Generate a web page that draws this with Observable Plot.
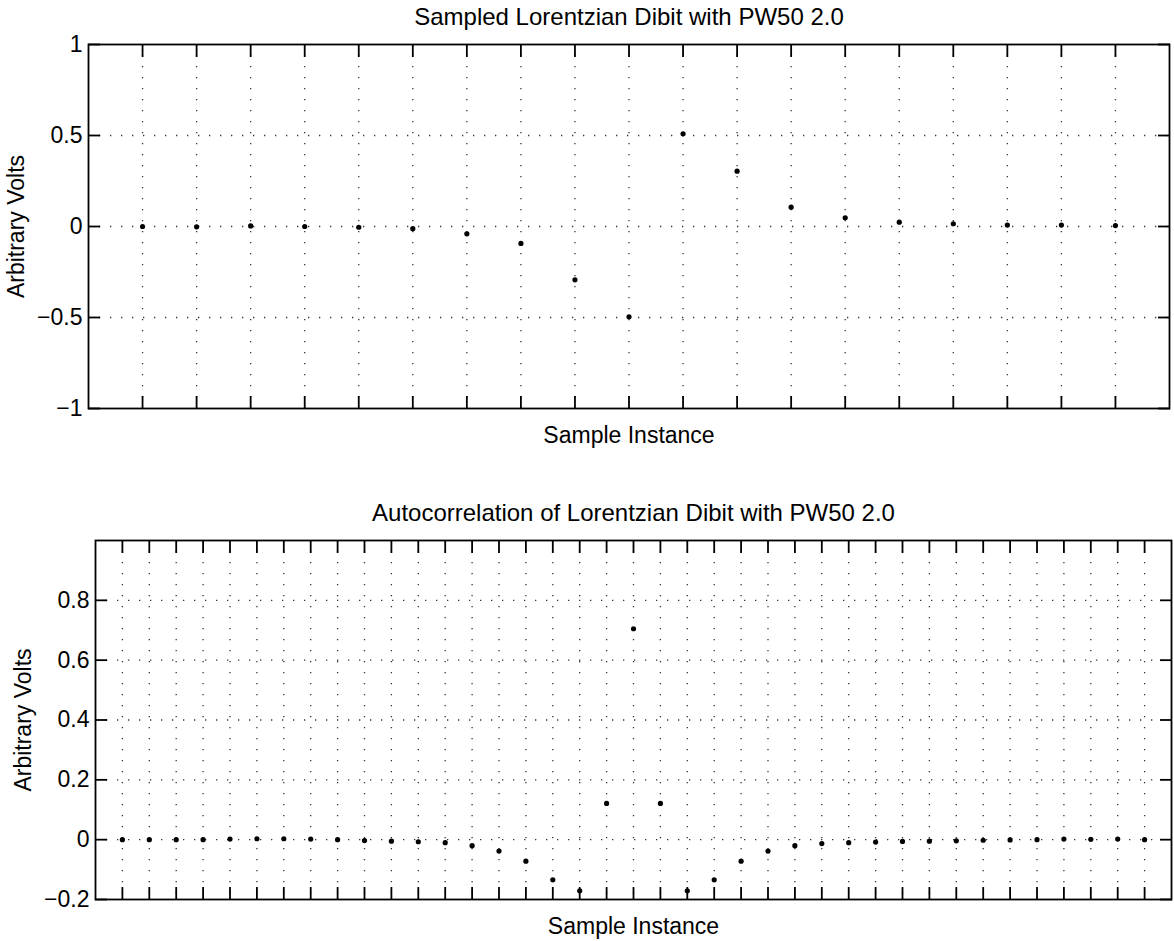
<!DOCTYPE html>
<html><head><meta charset="utf-8">
<script src="https://cdn.jsdelivr.net/npm/d3@7"></script>
<script src="https://cdn.jsdelivr.net/npm/@observablehq/plot@0.6"></script>
<style>
body{margin:0;background:#fff;}
#chart{position:relative;width:1174px;height:941px;font-family:"Liberation Sans",Arial,Helvetica,sans-serif;}
#chart svg{display:block;}
</style></head><body><div id="chart"></div>
<script>
// ---- text ----
const topTitle = "Sampled Lorentzian Dibit with PW50 2.0";
const bottomTitle = "Autocorrelation of Lorentzian Dibit with PW50 2.0";
const xLabel = "Sample Instance";
const yLabel = "Arbitrary Volts";

// ---- top panel data: sampled dibit ----
const dibitIndex  = [1, 2, 3, 4, 5, 6, 7, 8, 9, 10, 11, 12, 13, 14, 15, 16, 17, 18, 19];
const dibitValues = [0, -0.002, 0.003, 0, -0.004, -0.012, -0.04, -0.093, -0.293, -0.496,
                     0.509, 0.304, 0.106, 0.048, 0.024, 0.015, 0.008, 0.008, 0.005];

// ---- bottom panel data: autocorrelation ----
const acIndex  = [1, 2, 3, 4, 5, 6, 7, 8, 9, 10, 11, 12, 13, 14, 15, 16, 17, 18, 19, 20,
                  21, 22, 23, 24, 25, 26, 27, 28, 29, 30, 31, 32, 33, 34, 35, 36, 37, 38, 39];
const acValues = [0, 0, 0, 0, 0.002, 0.003, 0.003, 0.002, 0, -0.003, -0.005, -0.007, -0.01,
                  -0.02, -0.038, -0.072, -0.134, -0.171, 0.121, 0.705, 0.121, -0.171, -0.134,
                  -0.072, -0.038, -0.02, -0.013, -0.01, -0.008, -0.006, -0.005, -0.004, -0.002,
                  -0.001, 0, 0.002, 0.001, 0.002, 0];

// ---- ticks ----
const topXTicks = [1, 2, 3, 4, 5, 6, 7, 8, 9, 10, 11, 12, 13, 14, 15, 16, 17, 18, 19];
const topXDomain = [0, 20];
const topYTicks = [-1, -0.5, 0, 0.5, 1];
const topYTickLabels = ["\u22121", "\u22120.5", "0", "0.5", "1"];
const topYDomain = [-1, 1];

const botXTicks = [1, 2, 3, 4, 5, 6, 7, 8, 9, 10, 11, 12, 13, 14, 15, 16, 17, 18, 19, 20,
                   21, 22, 23, 24, 25, 26, 27, 28, 29, 30, 31, 32, 33, 34, 35, 36, 37, 38, 39];
const botXDomain = [0, 40];
const botYTicks = [-0.2, 0, 0.2, 0.4, 0.6, 0.8];
const botYTickLabels = ["\u22120.2", "0", "0.2", "0.4", "0.6", "0.8"];
const botYDomain = [-0.2, 1];

const FONT = '"Liberation Sans", Arial, Helvetica, sans-serif';

function panel({index, values, title, xTicks, xDomain, yTicks, yTickLabels, yDomain,
                height, marginTop, marginBottom, marginLeft, marginRight}) {
  const rows = index.map((x, i) => ({x, v: values[i]}));
  const fmt = d => yTickLabels[yTicks.indexOf(d)];
  const inner = yTicks.filter(t => t > yDomain[0] && t < yDomain[1]);
  const dotted = {stroke: "#111", strokeOpacity: 0.85, strokeWidth: 1.3, strokeDasharray: "1.3,9.7"};
  const tickStyle = {tickSize: -12, stroke: "black", strokeWidth: 1.8};
  return Plot.plot({
    width: 1174, height, marginTop, marginBottom, marginLeft, marginRight,
    style: {fontFamily: FONT, fontSize: "23px", background: "white", color: "black", overflow: "visible"},
    x: {domain: xDomain, label: null},
    y: {domain: yDomain, label: null},
    marks: [
      Plot.gridX(xTicks, dotted),
      Plot.gridY(inner, dotted),
      Plot.axisY({anchor: "left", ticks: yTicks, tickFormat: fmt, ...tickStyle, tickPadding: 18, fontSize: 23, label: null}),
      Plot.axisY({anchor: "right", ticks: yTicks, ...tickStyle, fill: "none", label: null}),
      Plot.axisX({anchor: "bottom", ticks: xTicks, ...tickStyle, fill: "none", label: null}),
      Plot.axisX({anchor: "top", ticks: xTicks, ...tickStyle, fill: "none", label: null}),
      Plot.frame({stroke: "black", strokeWidth: 1.8}),
      Plot.dot(rows, {x: "x", y: "v", r: 2.6, fill: "black", stroke: "none"}),
      Plot.text([title], {frameAnchor: "top", text: d => d, dy: -27, lineAnchor: "middle", fontSize: 24, fill: "black"}),
      Plot.text([xLabel], {frameAnchor: "bottom", text: d => d, dy: 27, lineAnchor: "middle", fontSize: 23, fill: "black"}),
      Plot.text([yLabel], {frameAnchor: "left", text: d => d, dx: -72, rotate: -90, lineAnchor: "middle", textAnchor: "middle", fontSize: 23, fill: "black"})
    ]
  });
}

const host = document.getElementById("chart");
host.append(panel({
  index: dibitIndex, values: dibitValues, title: topTitle,
  xTicks: topXTicks, xDomain: topXDomain, yTicks: topYTicks, yTickLabels: topYTickLabels, yDomain: topYDomain,
  height: 470, marginTop: 44, marginBottom: 62, marginLeft: 88, marginRight: 5
}));
host.append(panel({
  index: acIndex, values: acValues, title: bottomTitle,
  xTicks: botXTicks, xDomain: botXDomain, yTicks: botYTicks, yTickLabels: botYTickLabels, yDomain: botYDomain,
  height: 471, marginTop: 70, marginBottom: 42, marginLeft: 95, marginRight: 3
}));
</script></body></html>
